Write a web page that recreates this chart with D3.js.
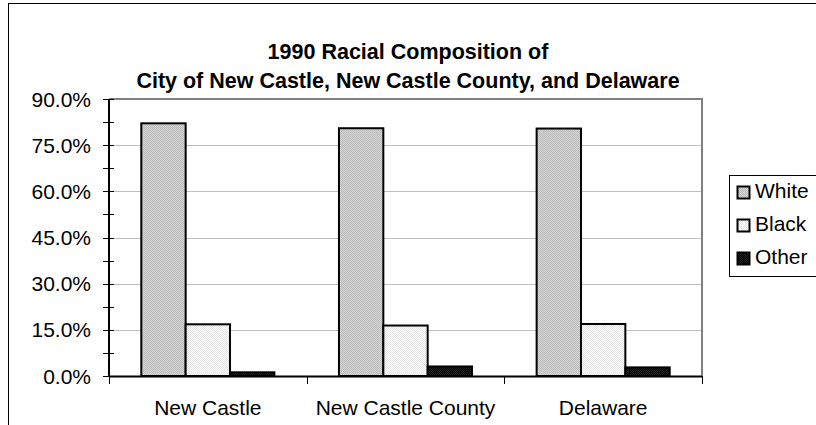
<!DOCTYPE html>
<html>
<head>
<meta charset="utf-8">
<script src="https://cdn.jsdelivr.net/npm/d3@7"></script>
<style>
  html, body { margin: 0; padding: 0; background: #fff; }
  svg { display: block; font-family: Arial, "Liberation Sans", sans-serif; }
</style>
</head>
<body>
<svg id="chart" width="816" height="425"></svg>
<script>
// Census shares (percent of total population), 1990
const categories = ["New Castle", "New Castle County", "Delaware"];
const seriesNames = ["White", "Black", "Other"];
const whiteValues = [82.1, 80.5, 80.4];
const blackValues = [16.8, 16.4, 16.9];
const otherValues = [1.2, 3.1, 2.8];
const yTicks = [0, 15, 30, 45, 60, 75, 90];
const titleLines = ["1990 Racial Composition of", "City of New Castle, New Castle County, and Delaware"];

const seriesValues = [whiteValues, blackValues, otherValues];

const svg = d3.select("#chart");
const W = 816, H = 425;

// chart-area frame (runs off the right and bottom edges)
svg.append("rect")
  .attr("x", 8.5).attr("y", 3.5)
  .attr("width", W).attr("height", H)
  .attr("fill", "#fff").attr("stroke", "#000").attr("stroke-width", 1);

// dithered fills for each series
const defs = svg.append("defs");
function dither(id, base, dot) {
  const p = defs.append("pattern").attr("id", id)
    .attr("patternUnits", "userSpaceOnUse").attr("width", 2).attr("height", 2);
  p.append("rect").attr("width", 2).attr("height", 2).attr("fill", base);
  p.append("rect").attr("width", 1).attr("height", 1).attr("fill", dot);
  p.append("rect").attr("x", 1).attr("y", 1).attr("width", 1).attr("height", 1).attr("fill", dot);
}
dither("fillWhite", "#d6d6d6", "#bababa");
dither("fillBlack", "#ffffff", "#e4e4e4");
dither("fillOther", "#000000", "#222222");
const fills = ["url(#fillWhite)", "url(#fillBlack)", "url(#fillOther)"];

const plot = { left: 109, right: 702, top: 99, bottom: 376 };

const x = d3.scaleBand().domain(categories)
  .range([plot.left, plot.right]).paddingInner(0).paddingOuter(0);
const groupPad = 32.3;
const xs = d3.scaleBand().domain(seriesNames)
  .range([groupPad, x.bandwidth() - groupPad]).padding(0);
const y = d3.scaleLinear().domain([0, 90]).range([plot.bottom, plot.top]);

// gridlines
svg.append("g").selectAll("line")
  .data(yTicks.filter(t => t > 0 && t < 90)).join("line")
  .attr("x1", plot.left).attr("x2", plot.right)
  .attr("y1", d => Math.round(y(d)) + 0.5).attr("y2", d => Math.round(y(d)) + 0.5)
  .attr("stroke", "#c0c0c0").attr("stroke-width", 1);

// plot border (top and right)
svg.append("path")
  .attr("d", `M${plot.left},${plot.top} H${plot.right} V${plot.bottom}`)
  .attr("fill", "none").attr("stroke", "#808080").attr("stroke-width", 2);

// bars
const rows = [];
categories.forEach((c, ci) => {
  seriesNames.forEach((s, si) => rows.push({ c, s, si, v: seriesValues[si][ci] }));
});
svg.append("g").selectAll("rect")
  .data(rows).join("rect")
  .attr("x", d => x(d.c) + xs(d.s))
  .attr("y", d => y(d.v))
  .attr("width", xs.bandwidth())
  .attr("height", d => y(0) - y(d.v))
  .attr("fill", d => fills[d.si])
  .attr("stroke", "#000").attr("stroke-width", 2);

// y axis with major and minor ticks that cross the axis line
const yAxisG = svg.append("g").attr("transform", `translate(${plot.left},0)`);
yAxisG.append("line").attr("y1", plot.top).attr("y2", plot.bottom + 1)
  .attr("stroke", "#000").attr("stroke-width", 2);
const minor = d3.range(0, 90.01, 7.5);
yAxisG.selectAll("line.tick").data(minor).join("line")
  .attr("class", "tick")
  .attr("x1", -6).attr("x2", 5)
  .attr("y1", d => Math.round(y(d)) + 0.5).attr("y2", d => Math.round(y(d)) + 0.5)
  .attr("stroke", "#000").attr("stroke-width", 1);
yAxisG.selectAll("text").data(yTicks).join("text")
  .attr("x", -18).attr("y", d => y(d) + 7.5)
  .attr("text-anchor", "end")
  .attr("font-size", 21)
  .text(d => d3.format(".1f")(d) + "%");

// x axis
const xAxisG = svg.append("g");
xAxisG.append("line").attr("x1", plot.left).attr("x2", plot.right)
  .attr("y1", plot.bottom + 0.5).attr("y2", plot.bottom + 0.5)
  .attr("stroke", "#000").attr("stroke-width", 2);
const bounds = categories.map(c => x(c)).concat([plot.right]);
xAxisG.selectAll("line.tick").data(bounds).join("line")
  .attr("class", "tick")
  .attr("x1", d => Math.round(d) + 0.5).attr("x2", d => Math.round(d) + 0.5)
  .attr("y1", plot.bottom).attr("y2", plot.bottom + 8)
  .attr("stroke", "#000").attr("stroke-width", 1);
xAxisG.selectAll("text").data(categories).join("text")
  .attr("x", d => x(d) + x.bandwidth() / 2)
  .attr("y", 415)
  .attr("text-anchor", "middle")
  .attr("font-size", 21)
  .text(d => d);

// title
svg.append("g").selectAll("text").data(titleLines).join("text")
  .attr("x", 408).attr("y", (d, i) => 59 + i * 29)
  .attr("text-anchor", "middle")
  .attr("font-size", 21.5).attr("font-weight", "bold")
  .text(d => d);

// legend
const lg = svg.append("g");
lg.append("rect").attr("x", 729.5).attr("y", 175.5)
  .attr("width", 90).attr("height", 101)
  .attr("fill", "#fff").attr("stroke", "#000").attr("stroke-width", 1);
const items = lg.selectAll("g.item").data(seriesNames).join("g")
  .attr("class", "item")
  .attr("transform", (d, i) => `translate(0,${[198, 231, 264][i]})`);
items.append("rect")
  .attr("x", 737.5).attr("y", -11.5).attr("width", 12).attr("height", 12)
  .attr("fill", (d, i) => fills[i]).attr("stroke", "#000").attr("stroke-width", 2);
items.append("text").attr("x", 755).attr("y", 0)
  .attr("font-size", 21).text(d => d);
</script>
</body>
</html>
